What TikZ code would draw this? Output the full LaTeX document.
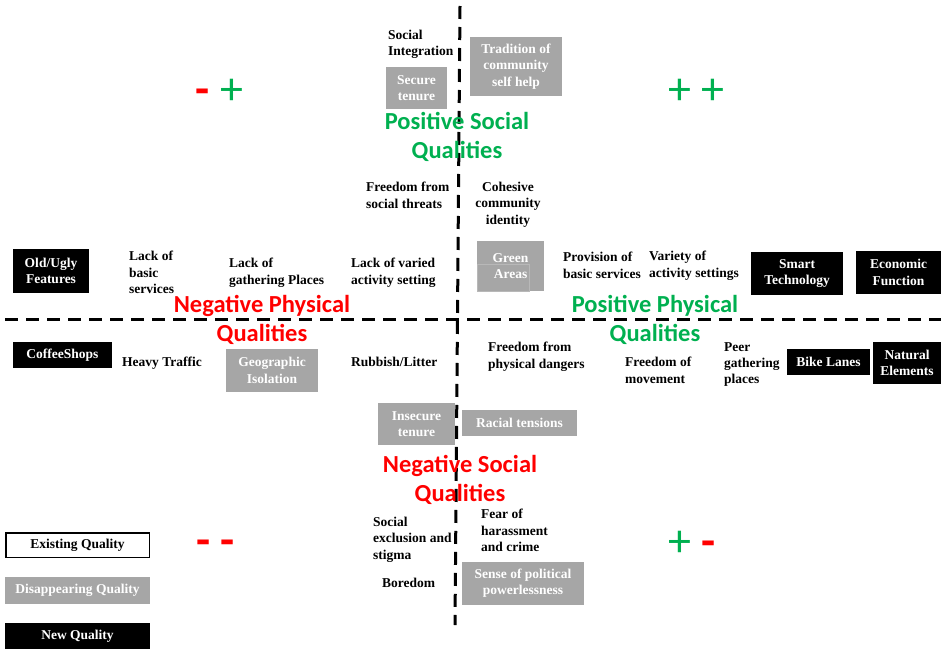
\documentclass[tikz,border=0pt]{standalone}
\usepackage{fontspec}
\setmainfont{Liberation Serif}
\newfontfamily\calib{Carlito}
\definecolor{qgray}{HTML}{A6A6A6}
\definecolor{qgreen}{HTML}{00B050}
\definecolor{qred}{HTML}{FF0000}
\tikzset{
  lbl/.style={font=\bfseries\fontsize{13.5}{16.3}\selectfont, align=left, inner sep=0pt, anchor=north west},
  clbl/.style={lbl, align=center, anchor=north},
  qbase/.style={font=\bfseries\fontsize{13.5}{16.3}\selectfont, align=center, inner sep=0pt},
  gq/.style={qbase, fill=qgray, text=white},
  nq/.style={qbase, fill=black, text=white},
  eq/.style={qbase, fill=white, draw=black, line width=1.5pt, text=black},
  head/.style={font=\calib\bfseries\fontsize{24.5}{29}\selectfont, align=center, inner sep=0pt, anchor=north},
  sign/.style={font=\calib\fontsize{46}{46}\selectfont, inner sep=0pt, anchor=base},
  axisline/.style={line width=3pt, dash pattern=on 13pt off 8pt},
}
\newcommand\qualbox[7]{%
  \node[#1, minimum width={(#5-#3)*1pt}, minimum height={(#6-#4)*1pt}] (#2) at ({(#3+#5)/2},{(#4+#6)/2}) {#7};}
\begin{document}
\begin{tikzpicture}[x=1pt,y=-1pt]
\useasboundingbox (0,0) rectangle (941,650);

% axes
\coordinate (vtop) at (460,6);
\coordinate (vbot) at (455,625);
\coordinate (hleft) at (5,319);
\coordinate (hright) at (941,319);
\draw[axisline] (vtop) -- (vbot);
\draw[axisline] (hleft) -- (hright);

% quadrant signs
\node[sign] (smp) at (219.5,105) {\textcolor{qred}{\bfseries -} \textcolor{qgreen}{+}};
\node[sign] (spp) at (696.5,104) {\textcolor{qgreen}{+} \textcolor{qgreen}{+}};
\node[sign] (spm) at (692,556) {\textcolor{qgreen}{+} \textcolor{qred}{\bfseries -}};
\node[sign] (smm) at (215.5,555) {\textcolor{qred}{\bfseries -} \textcolor{qred}{\bfseries -}};

% headings
\node[head, text=qgreen] (hps) at (457,112) {Positive Social\\Qualities};
\node[head, text=qred] (hnp) at (262,295) {Negative Physical\\Qualities};
\node[head, text=qgreen] (hpp) at (655,295) {Positive Physical\\Qualities};
\node[head, text=qred] (hns) at (460,455) {Negative Social\\Qualities};

% upper half labels
\node[lbl] (socint) at (388,30) {Social\\Integration};
\qualbox{gq}{secure}{386}{67}{447}{109}{Secure\\tenure}
\qualbox{gq}{tradition}{470}{37}{562}{96}{Tradition of\\community\\self help}
\node[lbl] (freesoc) at (366,182) {Freedom from\\social threats};
\node[clbl] (cohesive) at (508,182) {Cohesive\\community\\identity};

\qualbox{nq}{oldugly}{13}{249}{89}{293}{Old/Ugly\\Features}
\node[lbl] (lackbasic) at (129,251) {Lack of\\basic\\services};
\node[lbl] (lackgather) at (229,258) {Lack of\\gathering Places};
\node[lbl] (lackvaried) at (351,258) {Lack of varied\\activity setting};
\qualbox{gq}{green}{477}{241}{544}{291}{Green\\Areas}
\draw[qgray!80!white, line width=0.8pt] (477,264) rectangle (529,291);
\node[lbl] (provision) at (563,252) {Provision of\\basic services};
\node[lbl] (variety) at (649,251) {Variety of\\activity settings};
\qualbox{nq}{smart}{751}{252}{843}{295}{Smart\\Technology}
\qualbox{nq}{economic}{856}{251}{941}{294}{Economic\\Function}

% lower half labels
\qualbox{nq}{coffee}{13}{342}{112}{368}{CoffeeShops}
\node[lbl] (traffic) at (122,357) {Heavy Traffic};
\qualbox{gq}{geo}{226}{349}{318}{392}{Geographic\\Isolation}
\node[lbl] (rubbish) at (351,357) {Rubbish/Litter};
\node[lbl] (freephys) at (488,342) {Freedom from\\physical dangers};
\node[lbl] (freemove) at (625,357) {Freedom of\\movement};
\node[lbl] (peer) at (724,342) {Peer\\gathering\\places};
\qualbox{nq}{bike}{787}{349}{870}{375}{Bike Lanes}
\qualbox{nq}{natural}{873}{342}{941}{384}{Natural\\Elements}

\qualbox{gq}{insecure}{378}{403}{455}{445}{Insecure\\tenure}
\qualbox{gq}{racial}{462}{410}{577}{436}{Racial tensions}
\node[lbl] (exclusion) at (373,517) {Social\\exclusion and\\stigma};
\node[lbl] (boredom) at (382,578) {Boredom};
\node[lbl] (fear) at (481,509) {Fear of\\harassment\\and crime};
\qualbox{gq}{political}{462}{562}{584}{605}{Sense of political\\powerlessness}

% legend
\qualbox{eq}{legexist}{5.75}{532.75}{149.25}{557.25}{Existing Quality}
\qualbox{gq}{legdisap}{5}{577}{150}{604}{Disappearing Quality}
\qualbox{nq}{legnew}{5}{623}{150}{649}{New Quality}
\end{tikzpicture}
\end{document}
